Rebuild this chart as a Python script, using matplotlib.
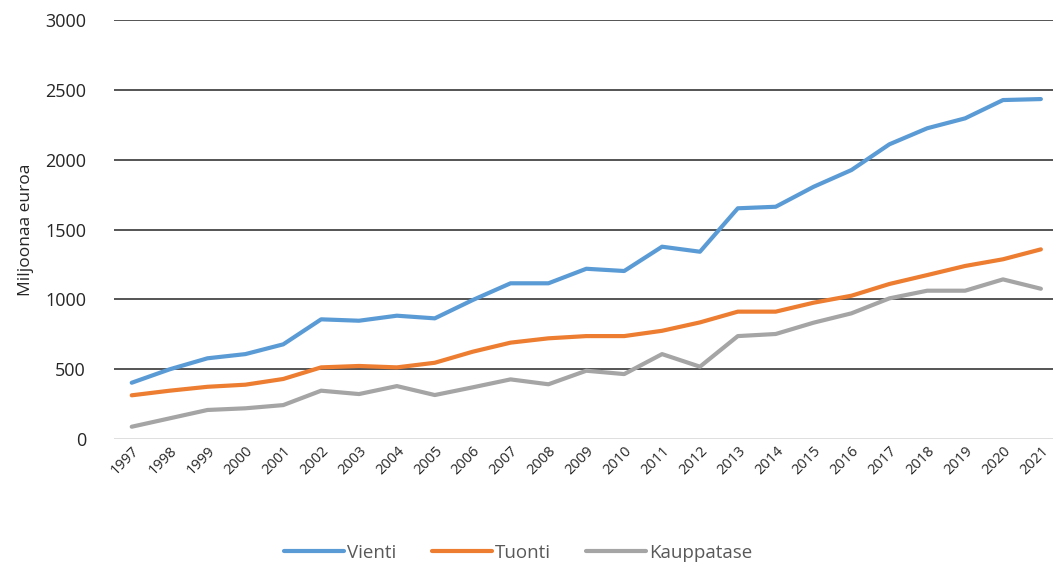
import matplotlib
matplotlib.use("Agg")
import matplotlib.pyplot as plt

years = [str(y) for y in range(1997, 2022)]
vienti = [403, 499, 578, 608, 678, 857, 847, 883, 864, 995, 1115, 1115, 1219,
          1203, 1377, 1341, 1652, 1663, 1806, 1926, 2110, 2225, 2296, 2427, 2434]
tuonti = [313, 346, 374, 389, 430, 513, 523, 513, 546, 625, 690, 721, 737,
          737, 775, 835, 912, 912, 976, 1026, 1110, 1174, 1239, 1287, 1358]
kauppatase = [88, 148, 208, 220, 243, 346, 322, 379, 315, 370, 427, 392, 489,
              465, 608, 518, 737, 752, 833, 900, 1007, 1062, 1062, 1143, 1076]
series_names = ["Vienti", "Tuonti", "Kauppatase"]
colors = ["#5B9BD5", "#ED7D31", "#A5A5A5"]
yticks = [0, 500, 1000, 1500, 2000, 2500, 3000]

plt.rcParams['font.family'] = ['Open Sans', 'DejaVu Sans']

fig = plt.figure(figsize=(10.53, 5.67), dpi=100)
ax = fig.add_axes([0.108, 0.2257, 0.892, 0.739])

x = list(range(len(years)))
for vals, name, c in zip([vienti, tuonti, kauppatase], series_names, colors):
    ax.plot(x, vals, color=c, lw=3.0, label=name, solid_capstyle='round',
            solid_joinstyle='round', zorder=3)

ax.set_ylim(0, 3000)
ax.set_xlim(-0.475, 24.32)
ax.set_yticks(yticks)
for t in yticks[1:]:
    ax.axhline(t, color="#262626", lw=1.1, zorder=1)
ax.axhline(0, color="#D9D9D9", lw=1.2, zorder=1)
ax.grid(False)
for s in ax.spines.values():
    s.set_visible(False)
ax.tick_params(axis='both', length=0)
ax.tick_params(axis='y', labelsize=13, colors='#262626', pad=20)
ax.set_xticks(x)
ax.set_xticklabels(years, rotation=45, fontsize=10.5, color='#262626',
                   ha='right', rotation_mode='anchor')
ax.tick_params(axis='x', pad=3)
ax.set_ylabel("Miljoonaa euroa", fontsize=12.5, color='#262626', labelpad=8)

leg = fig.legend(loc='center', bbox_to_anchor=(0.492, 0.025), ncol=3, frameon=False,
                 fontsize=13.5, handlelength=3.2, handletextpad=0.15, columnspacing=1.9)
for t in leg.get_texts():
    t.set_color('#595959')

fig.savefig("out.png", dpi=100)
